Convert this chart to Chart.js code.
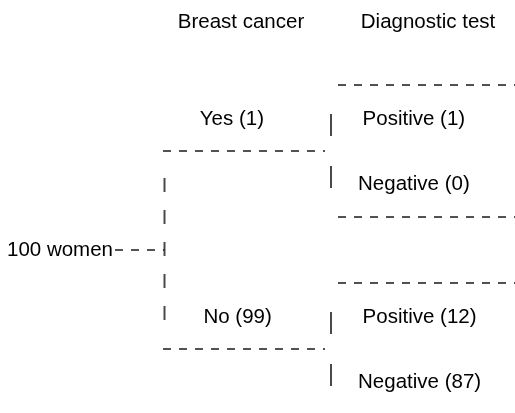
<!DOCTYPE html>
<html>
<head>
<meta charset="utf-8">
<script src="https://cdn.jsdelivr.net/npm/chart.js@4.4.1/dist/chart.umd.min.js"></script>
<style>
  html, body { margin: 0; padding: 0; background: #ffffff; }
  #wrap { width: 515px; height: 413px; }
</style>
</head>
<body>
<div id="wrap"><canvas id="c" width="515" height="413"></canvas></div>
<script>
// ---- data ----
const headers = ["Breast cancer", "Diagnostic test"];
const rootLabel = "100 women";
const rootCount = 100;
const cancerCategories = ["Yes", "No"];
const cancerCounts = [1, 99];
const testCategories = ["Positive", "Negative"];
const testCounts = [[1, 0], [12, 87]];

// ---- layout (diagram units) ----
const X = { rootTextRight: 113, rootStart: 115, lvl1: 164.5, lvl1End: 325, lvl2: 331,
            sepStart: 338, sepEnd: 520, lvl1Word: 216.5, lvl2Word: 398.5,
            header: [241, 428] };
const PX = 99;                // pixels per y-unit
const branchY = [1, -1];      // yes / no branch rows
const headerY = 228 / PX;
const textOffUp = 32 / PX;
const textOffDown = 33 / PX;
const sepOff = 66 / PX;
const trunkHalf = 72 / PX;
const vTop = 37 / PX, vBot = -38 / PX;

const hColor = '#1a1a1a';
const vColor = '#4a4a4a';
const hDash = [8, 8];

function seg(x1, y1, x2, y2, dash, color, width) {
  return {
    data: [{x: x1, y: y1}, {x: x2, y: y2}],
    showLine: true, pointRadius: 0, borderColor: color, borderWidth: width,
    borderDash: dash, fill: false, tension: 0
  };
}

const datasets = [];
// root line
datasets.push(seg(X.rootStart, 0, X.lvl1, 0, hDash, hColor, 1.5));
// trunk at level 1
datasets.push(seg(X.lvl1, trunkHalf, X.lvl1, -trunkHalf, [14, 18], vColor, 2));
cancerCategories.forEach((c, i) => {
  const b = branchY[i];
  datasets.push(seg(163, b, X.lvl1End, b, hDash, hColor, 1.5));
  datasets.push(seg(X.lvl2, b + vTop, X.lvl2, b + vBot, [22, 30], vColor, 2));
  datasets.push(seg(X.sepStart, b + sepOff, X.sepEnd, b + sepOff, hDash, hColor, 1.5));
  datasets.push(seg(X.sepStart, b - sepOff, X.sepEnd, b - sepOff, hDash, hColor, 1.5));
});

const FONT = '20.5px "Liberation Sans", Arial, Helvetica, sans-serif';

const textPlugin = {
  id: 'treeText',
  afterDatasetsDraw(chart) {
    const ctx = chart.ctx, xs = chart.scales.x, ys = chart.scales.y;
    ctx.save();
    ctx.font = FONT;
    ctx.fillStyle = '#000';
    ctx.textBaseline = 'middle';
    // headers
    ctx.textAlign = 'center';
    headers.forEach((h, i) => ctx.fillText(h, xs.getPixelForValue(X.header[i]), ys.getPixelForValue(headerY)));
    // root
    ctx.textAlign = 'right';
    ctx.fillText(rootLabel, xs.getPixelForValue(X.rootTextRight), ys.getPixelForValue(0));
    // word centered, count appended
    ctx.textAlign = 'left';
    const put = (word, n, xc, y) => {
      const w = ctx.measureText(word).width;
      ctx.fillText(word + ' (' + n + ')', xs.getPixelForValue(xc) - w / 2, ys.getPixelForValue(y));
    };
    cancerCategories.forEach((c, i) => {
      const b = branchY[i];
      put(c, cancerCounts[i], X.lvl1Word, b + textOffUp);
      put(testCategories[0], testCounts[i][0], X.lvl2Word, b + textOffUp);
      put(testCategories[1], testCounts[i][1], X.lvl2Word, b - textOffDown);
    });
    ctx.restore();
  }
};

new Chart(document.getElementById('c'), {
  type: 'scatter',
  data: { datasets },
  options: {
    responsive: false,
    animation: false,
    devicePixelRatio: 1,
    layout: { padding: 0 },
    plugins: { legend: { display: false }, tooltip: { enabled: false } },
    scales: {
      x: { type: 'linear', min: 0, max: 515, display: false },
      y: { type: 'linear', min: -163 / PX, max: 250 / PX, display: false }
    }
  },
  plugins: [textPlugin]
});
</script>
</body>
</html>
